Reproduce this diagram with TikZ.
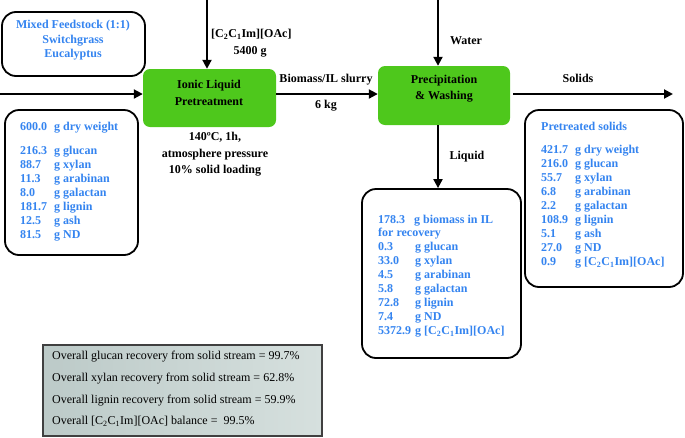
\documentclass[tikz,border=0pt]{standalone}
\usepackage{fontspec}
\setmainfont{Liberation Serif}
\usetikzlibrary{arrows.meta}
\definecolor{txtblue}{RGB}{52,132,240}
\definecolor{boxgreen}{RGB}{78,200,28}
\definecolor{sumL}{RGB}{188,202,200}
\definecolor{sumR}{RGB}{214,224,222}
\newcommand{\ILname}{[C\textsubscript{2}C\textsubscript{1}Im][OAc]}
\tikzset{
  rbox/.style={draw=black, line width=1.8pt, rounded corners=14pt, fill=white},
  gbox/.style={fill=boxgreen, rounded corners=7pt, draw=none},
  sumbox/.style={draw=black!75, line width=1.4pt, left color=sumL, right color=sumR},
  arr/.style={line width=2pt, -{Triangle[length=9pt,width=9pt]}},
  lbl/.style={font=\fontsize{12}{14}\selectfont\bfseries, inner sep=0pt, anchor=mid},
  blt/.style={font=\fontsize{12}{14}\selectfont\bfseries, text=txtblue, inner sep=0pt},
  sumt/.style={font=\fontsize{12}{14}\selectfont, inner sep=0pt, anchor=mid west},
}
\begin{document}
\begin{tikzpicture}[x=1pt,y=-1pt]
\useasboundingbox (0,0) rectangle (685,437);

% boxes
\node[rbox, minimum width=143pt, minimum height=64pt] (feed) at (73.5,44) {};
\node[rbox, minimum width=133pt, minimum height=145pt] (feedcomp) at (71.5,182.5) {};
\node[gbox, minimum width=133pt, minimum height=58pt] (il) at (209.5,98) {};
\node[gbox, minimum width=132pt, minimum height=59pt] (prec) at (444,95.5) {};
\node[rbox, minimum width=159pt, minimum height=169pt] (liq) at (441.5,273.5) {};
\node[rbox, minimum width=158pt, minimum height=177pt] (sol) at (604,198.5) {};
\node[sumbox, minimum width=279pt, minimum height=91pt] (sum) at (182.5,390.5) {};

% feedstock text
\node[blt, anchor=mid] (f1) at (73,26) {Mixed Feedstock (1:1)};
\node[blt, anchor=mid] (f2) at (73,41) {Switchgrass};
\node[blt, anchor=mid] (f3) at (73,55) {Eucalyptus};

% process box texts
\node[lbl] (il1) at (209,86) {Ionic Liquid};
\node[lbl] (il2) at (209,103) {Pretreatment};
\node[lbl] (pr1) at (444,81) {Precipitation};
\node[lbl] (pr2) at (444,97) {\& Washing};

% coordinates for free arrow ends
\coordinate (feedin) at (0,94);
\coordinate (iltop) at (207,0);
\coordinate (wtop) at (438,0);
\coordinate (solend) at (673,94);

% arrows
\draw[arr] (feedin) -- (feedin -| il.west);
\draw[arr] (iltop) -- (iltop |- il.north);
\draw[arr] (il.east |- feedin) -- (prec.west |- feedin);
\draw[arr] (wtop) -- (wtop |- prec.north);
\draw[arr] (prec.east |- solend) ++(3,0) -- (solend);
\draw[arr] (wtop |- prec.south) -- (wtop |- liq.north);

% arrow labels
\node[lbl, anchor=mid west] (ilname) at (211,35) {\ILname};
\node[lbl] (ilmass) at (250,52) {5400 g};
\node[lbl] (slurry) at (326,80) {Biomass/IL slurry};
\node[lbl] (slurrym) at (326,106) {6 kg};
\node[lbl] (water) at (466,42) {Water};
\node[lbl] (solids) at (578,80) {Solids};
\node[lbl] (liquid) at (467,157) {Liquid};

% conditions
\node[lbl] (c1) at (215,138) {140ºC, 1h,};
\node[lbl] (c2) at (215,155) {atmosphere pressure};
\node[lbl] (c3) at (215,171) {10\% solid loading};

% feed composition
\node[blt, anchor=mid west] (fa) at (20,128) {600.0};
\node[blt, anchor=mid west] (fb) at (54,128) {g dry weight};
\foreach \n/\t [count=\i] in {216.3/glucan, 88.7/xylan, 11.3/arabinan, 8.0/galactan, 181.7/lignin, 12.5/ash, 81.5/ND}{
  \node[blt, anchor=mid west] (fn\i) at (20,{152+14.1*(\i-1)}) {\n};
  \node[blt, anchor=mid west] (ft\i) at (54,{152+14.1*(\i-1)}) {g \t};
}

% liquid composition
\node[blt, anchor=mid west] (la) at (378,221) {178.3};
\node[blt, anchor=mid west] (lb) at (414,221) {g biomass in IL};
\node[blt, anchor=mid west] (lc) at (378,234.5) {for recovery};
\foreach \n/\t [count=\i] in {0.3/glucan, 33.0/xylan, 4.5/arabinan, 5.8/galactan, 72.8/lignin, 7.4/ND, 5372.9/\ILname}{
  \node[blt, anchor=mid west] (ln\i) at (378,{248.5+14*(\i-1)}) {\n};
  \node[blt, anchor=mid west] (lt\i) at (415,{248.5+14*(\i-1)}) {g \t};
}

% pretreated solids
\node[blt, anchor=mid west] (sa) at (541,128) {Pretreated solids};
\foreach \n/\t [count=\i] in {421.7/dry weight, 216.0/glucan, 55.7/xylan, 6.8/arabinan, 2.2/galactan, 108.9/lignin, 5.1/ash, 27.0/ND, 0.9/\ILname}{
  \node[blt, anchor=mid west] (sn\i) at (541,{151.5+14*(\i-1)}) {\n};
  \node[blt, anchor=mid west] (st\i) at (575,{151.5+14*(\i-1)}) {g \t};
}

% summary
\node[sumt] (s1) at (52,357) {Overall glucan recovery from solid stream = 99.7\%};
\node[sumt] (s2) at (52,379) {Overall xylan recovery from solid stream = 62.8\%};
\node[sumt] (s3) at (52,401) {Overall lignin recovery from solid stream = 59.9\%};
\node[sumt] (s4) at (52,422) {Overall [C\textsubscript{2}C\textsubscript{1}Im][OAc] balance = ~99.5\%};
\end{tikzpicture}
\end{document}
